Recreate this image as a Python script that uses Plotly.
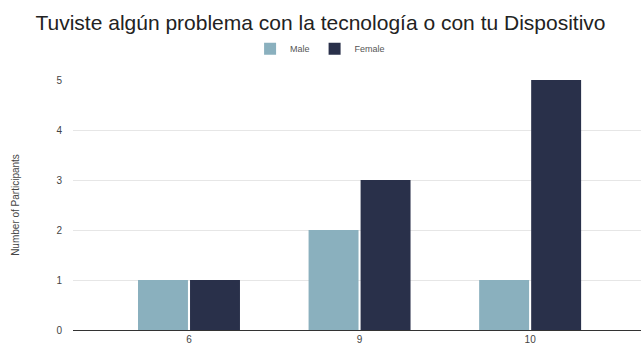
import plotly.graph_objects as go

categories = ["6", "9", "10"]
male = [1, 2, 1]
female = [1, 3, 5]

fig = go.Figure()
fig.add_trace(go.Bar(name="Male", x=categories, y=male, marker=dict(color="#8ab0be", line=dict(width=0))))
fig.add_trace(go.Bar(name="Female", x=categories, y=female, marker=dict(color="#29304a", line=dict(width=0))))

fig.update_layout(
    width=641, height=351,
    margin=dict(l=73, r=0, t=80, b=21),
    paper_bgcolor="white", plot_bgcolor="white",
    font=dict(family="Liberation Sans, Arial, sans-serif", color="#444"),
    title=dict(text="Tuviste algún problema con la tecnología o con tu Dispositivo",
               x=0.5, xanchor="center", y=0.935, yanchor="middle",
               font=dict(size=21, color="#222")),
    legend=dict(orientation="h", x=0.435, xanchor="center", y=1.125, yanchor="middle",
                font=dict(size=9, color="#555"), itemwidth=30, tracegroupgap=0),
    barmode="group", bargap=0.39, bargroupgap=0.04,
    showlegend=True,
)
fig.update_xaxes(type="category", range=[-0.68, 2.65], showline=True, linecolor="#333", linewidth=1,
                 ticks="", tickfont=dict(size=10, color="#444"), showgrid=False)
fig.update_yaxes(range=[0, 5], dtick=1, showgrid=True, gridcolor="#e6e6e6", zeroline=False,
                 tickfont=dict(size=10, color="#444"), ticklabelstandoff=10,
                 title=dict(text="Number of Participants", font=dict(size=10, color="#444"), standoff=34))

fig.write_html("out.html")
